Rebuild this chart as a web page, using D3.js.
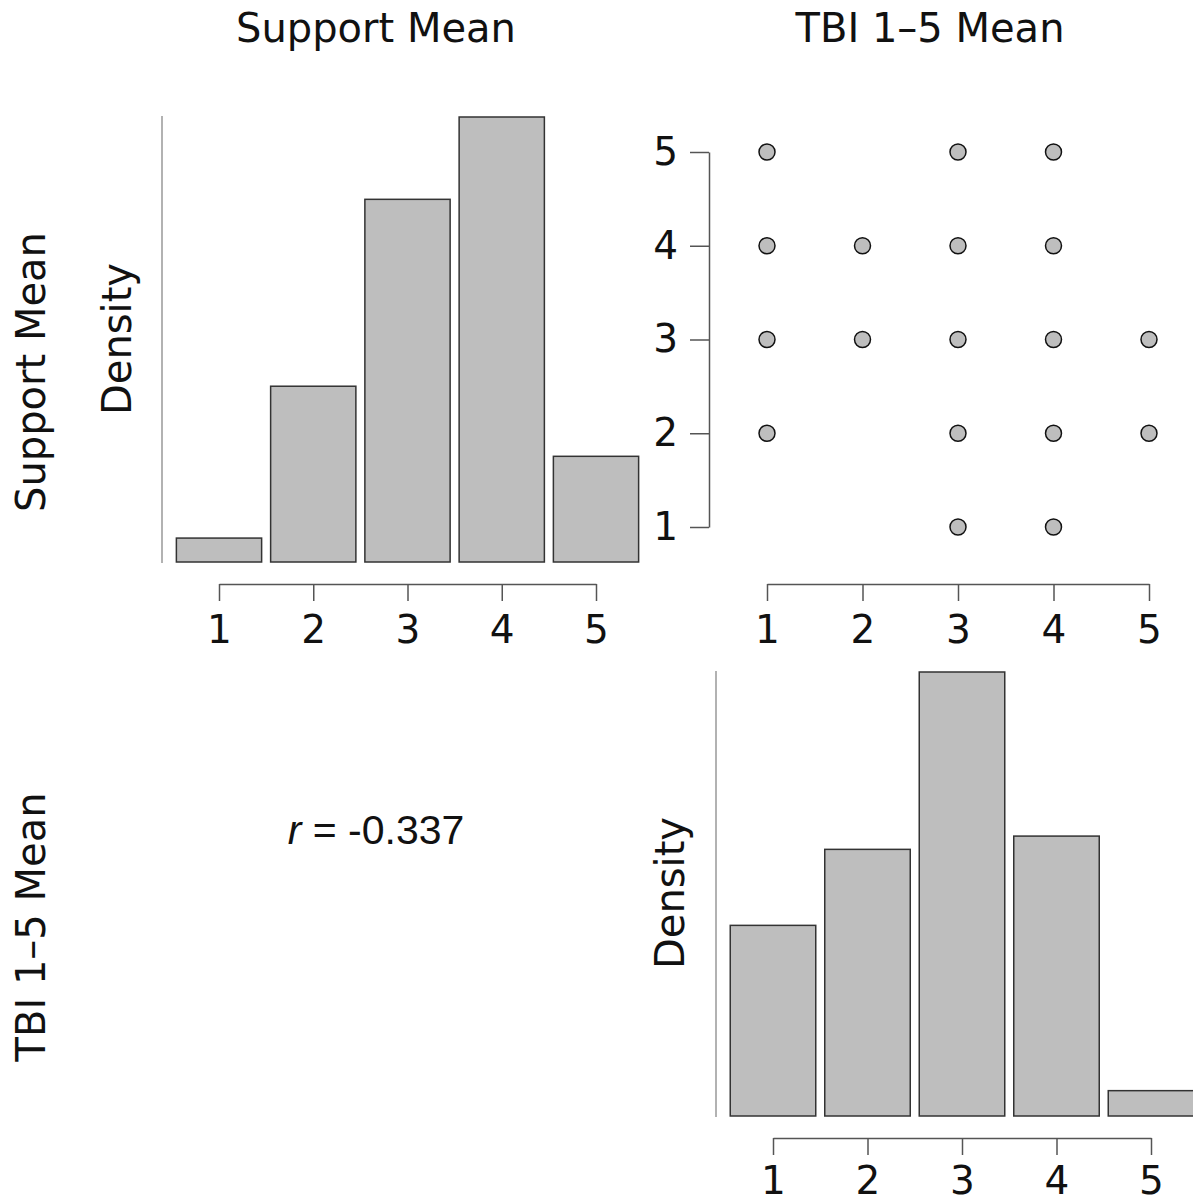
<!DOCTYPE html>
<html><head><meta charset="utf-8">
<script src="https://cdn.jsdelivr.net/npm/d3@7"></script>
<style>
html,body{margin:0;padding:0;background:#fff;}
svg text{font-family:"DejaVu Sans",sans-serif;fill:#111;}
</style></head>
<body>
<svg id="chart" width="1193" height="1204"></svg>
<script>
// ---- data ----
const variables = ["Support Mean", "TBI 1\u20135 Mean"];
const binCenters = [1, 2, 3, 4, 5];
const tickLabels = [1, 2, 3, 4, 5];
const supportDensity = [0.0215, 0.158, 0.326, 0.400, 0.095];
const tbiDensity = [0.158, 0.221, 0.368, 0.232, 0.021];
const scatterX = [1, 3, 4, 1, 2, 3, 4, 1, 2, 3, 4, 5, 1, 3, 4, 5, 3, 4];
const scatterY = [5, 5, 5, 4, 4, 4, 4, 3, 3, 3, 3, 3, 2, 2, 2, 2, 1, 1];
const rLabel = "-0.337";

const svg = d3.select("#chart");
const FS = 39;
const barFill = "#bebebe", barStroke = "#333", lineCol = "#555";

function xAxis(x, y, pad) {
  const ax = svg.append("g").attr("transform", `translate(0,${y})`)
    .call(d3.axisBottom(x).tickValues(tickLabels).tickSize(17).tickSizeOuter(0).tickPadding(pad).tickFormat(d3.format("d")));
  ax.select(".domain").attr("stroke", lineCol).attr("stroke-width", 1.5);
  ax.selectAll(".tick line").attr("stroke", lineCol).attr("stroke-width", 1.5);
  ax.selectAll(".tick text").attr("font-size", FS).attr("font-family", "DejaVu Sans").attr("fill", "#111");
  return ax;
}

function histogram(dens, x, yBase, yTop, lineX) {
  const y = d3.scaleLinear().domain([0, d3.max(dens)]).range([yBase, yTop]);
  const half = 0.5, gap = 4.5;
  svg.append("line").attr("x1", lineX).attr("x2", lineX)
    .attr("y1", y(0) + 1).attr("y2", y(d3.max(dens)) - 1)
    .attr("stroke", "#999").attr("stroke-width", 1.5);
  svg.append("g").selectAll("rect").data(binCenters).join("rect")
    .attr("x", (c) => x(c - half) + gap)
    .attr("width", (c) => x(c + half) - x(c - half) - 2 * gap)
    .attr("y", (c, i) => y(dens[i]))
    .attr("height", (c, i) => y(0) - y(dens[i]))
    .attr("fill", barFill).attr("stroke", barStroke).attr("stroke-width", 1.5);
  return y;
}

// ---- top-left histogram ----
const x1 = d3.scaleLinear().domain([1, 5]).range([219, 596]);
histogram(supportDensity, x1, 562, 117, 162);
xAxis(x1, 584, 14);

// ---- top-right scatter ----
const xs = d3.scaleLinear().domain([1, 5]).range([767, 1149]);
const ys = d3.scaleLinear().domain([1, 5]).range([527, 152]);
xAxis(xs, 584, 14);
const yAx = svg.append("g").attr("transform", "translate(709,0)")
  .call(d3.axisLeft(ys).tickValues(tickLabels).tickSize(19).tickSizeOuter(0).tickPadding(12).tickFormat(d3.format("d")));
yAx.select(".domain").attr("stroke", lineCol).attr("stroke-width", 1.5);
yAx.selectAll(".tick line").attr("stroke", lineCol).attr("stroke-width", 1.5);
yAx.selectAll(".tick text").attr("font-size", FS).attr("font-family", "DejaVu Sans").attr("fill", "#111");
svg.append("g").selectAll("circle").data(scatterX).join("circle")
  .attr("cx", (d) => xs(d)).attr("cy", (d, i) => ys(scatterY[i]))
  .attr("r", 8).attr("fill", barFill).attr("stroke", "#111").attr("stroke-width", 1.5);

// ---- bottom-right histogram ----
const x2 = d3.scaleLinear().domain([1, 5]).range([773, 1151]);
histogram(tbiDensity, x2, 1116, 672, 716);
xAxis(x2, 1138, 11);

// ---- correlation text ----
const rt = svg.append("text").attr("x", 376).attr("y", 844).attr("text-anchor", "middle")
  .style("font-family", "'Liberation Sans', Arial, sans-serif").attr("font-size", 41);
rt.append("tspan").attr("font-style", "italic").text("r");
rt.append("tspan").text(" = " + rLabel);

// ---- titles ----
svg.append("text").attr("x", 376).attr("y", 42).attr("text-anchor", "middle").attr("font-size", 40).text(variables[0]);
svg.append("text").attr("x", 930).attr("y", 42).attr("text-anchor", "middle").attr("font-size", 40).text(variables[1]);
svg.append("text").attr("transform", "translate(45,372) rotate(-90)").attr("text-anchor", "middle").attr("font-size", 40).text(variables[0]);
svg.append("text").attr("transform", "translate(45,927) rotate(-90)").attr("text-anchor", "middle").attr("font-size", 40).text(variables[1]);
svg.append("text").attr("transform", "translate(131,339) rotate(-90)").attr("text-anchor", "middle").attr("font-size", 40).text("Density");
svg.append("text").attr("transform", "translate(684,893) rotate(-90)").attr("text-anchor", "middle").attr("font-size", 40).text("Density");
</script>
</body></html>
